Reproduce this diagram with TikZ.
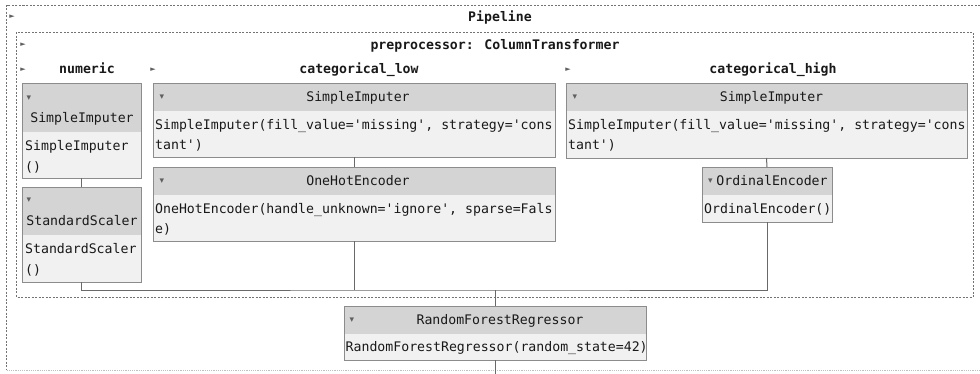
\documentclass[tikz,border=0pt]{standalone}
\usepackage{fontspec}
\newfontfamily\codefont{DejaVu Sans Mono}
\newfontfamily\symf{DejaVu Sans}
\definecolor{hdrgray}{RGB}{212,212,212}
\definecolor{bodgray}{RGB}{241,241,241}
\definecolor{bordc}{RGB}{140,140,140}
\definecolor{connc}{RGB}{105,105,105}
\definecolor{framec}{RGB}{115,115,115}
\definecolor{textc}{RGB}{25,25,25}
\definecolor{tric}{RGB}{95,95,95}
\tikzset{
  x=1pt, y=-1pt,
  estbox/.style={draw=bordc, line width=0.8pt, fill=bodgray, inner sep=0pt, outer sep=0pt, anchor=north west, rectangle},
  hdrbox/.style={fill=hdrgray, inner sep=0pt, outer sep=0pt, anchor=north west, rectangle},
  code/.style={font={\codefont\fontsize{13.2}{20}\selectfont}, text=textc, inner sep=0pt, anchor=base west},
  ttl/.style={font={\codefont\fontsize{13.2}{20}\selectfont}, text=textc, inner sep=0pt, anchor=base},
  lbl/.style={font={\codefont\bfseries\fontsize{13.2}{20}\selectfont}, text=textc, inner sep=0pt, anchor=base},
  tri/.style={font={\symf\fontsize{7}{7}\selectfont}, text=tric, inner sep=0pt},
  dtri/.style={font={\symf\fontsize{9}{9}\selectfont}, text=tric, inner sep=0pt},
  conn/.style={draw=connc, line width=1pt},
  frame/.style={draw=framec, dash pattern=on 2pt off 1.5pt, line width=0.7pt},
  faintframe/.style={draw=framec!45, dash pattern=on 1.2pt off 1pt, line width=0.7pt}
}
\begin{document}
\begin{tikzpicture}
\useasboundingbox (0,0) rectangle (980,373);
\clip (0,0) rectangle (980,373);
% frames
\draw[frame] (994,5) -- (6.5,5) -- (6.5,370);
\draw[faintframe] (6.5,370) -- (994,370);
\draw[frame] (16.5,32) rectangle (973,297);
% frame labels
\node[tri] (pt) at (12,17) {►};
\node[lbl] (plbl) at (500,21.5) {Pipeline};
\node[tri] (ct) at (23,44.5) {►};
\node[lbl] (clbl) at (495,49) {preprocessor: ColumnTransformer};
\node[tri] (nt) at (23,70) {►};
\node[lbl] (nlbl) at (87,73.5) {numeric};
\node[tri] (lt) at (153,70) {►};
\node[lbl] (llbl) at (359,73.5) {categorical\_low};
\node[tri] (ht) at (568,70) {►};
\node[lbl] (hlbl) at (773,73.5) {categorical\_high};
% boxes (outer)
\node[estbox, minimum width=118.5pt, minimum height=95pt] (n1) at (22.5,83) {};
\node[estbox, minimum width=118.5pt, minimum height=95pt] (n2) at (22.5,187) {};
\node[estbox, minimum width=402pt, minimum height=74pt] (l1) at (153,83) {};
\node[estbox, minimum width=402pt, minimum height=74pt] (l2) at (153,167) {};
\node[estbox, minimum width=401pt, minimum height=75pt] (h1) at (566,83) {};
\node[estbox, minimum width=130pt, minimum height=55pt] (h2) at (702,167) {};
\node[estbox, minimum width=302pt, minimum height=54pt] (rfr) at (344,306) {};
% connectors
\coordinate (junc) at (495,290);
\coordinate (bend) at (495,380);
\draw[conn] (n1.south) -- (n2.north);
\draw[conn] (l1.south) -- (l2.north);
\draw[conn] (h1.south) -- (h2.north);
\draw[conn] (n2.south) |- (junc) -| (h2.south);
\draw[conn] (l2.south) -- (l2.south |- junc);
\draw[conn] (junc) -- (rfr.north);
\draw[conn] (rfr.south) -- (bend);
% headers
\node[hdrbox, minimum width=117.5pt, minimum height=48.5pt] (n1h) at (23,83.5) {};
\node[hdrbox, minimum width=117.5pt, minimum height=47.5pt] (n2h) at (23,187.5) {};
\node[hdrbox, minimum width=401pt, minimum height=27.5pt] (l1h) at (153.5,83.5) {};
\node[hdrbox, minimum width=401pt, minimum height=27.5pt] (l2h) at (153.5,167.5) {};
\node[hdrbox, minimum width=400pt, minimum height=27.5pt] (h1h) at (566.5,83.5) {};
\node[hdrbox, minimum width=129pt, minimum height=27.5pt] (h2h) at (702.5,167.5) {};
\node[hdrbox, minimum width=301pt, minimum height=27.5pt] (rfrh) at (344.5,306.5) {};
% numeric column texts
\node[dtri] (n1d) at (29,98) {▾};
\node[ttl] (n1t) at (82,122) {SimpleImputer};
\node[code] (n1c1) at (25,150) {SimpleImputer};
\node[code] (n1c2) at (25,171) {()};
\node[dtri] (n2d) at (29,200) {▾};
\node[ttl] (n2t) at (82,225.5) {StandardScaler};
\node[code] (n2c1) at (25,253) {StandardScaler};
\node[code] (n2c2) at (25,274) {()};
% categorical_low texts
\node[dtri] (l1d) at (162,97) {▾};
\node[ttl] (l1t) at (358,101.5) {SimpleImputer};
\node[code] (l1c1) at (155,129) {SimpleImputer(fill\_value='missing', strategy='cons};
\node[code] (l1c2) at (155,149) {tant')};
\node[dtri] (l2d) at (162,181) {▾};
\node[ttl] (l2t) at (358,185.5) {OneHotEncoder};
\node[code] (l2c1) at (155,213) {OneHotEncoder(handle\_unknown='ignore', sparse=Fals};
\node[code] (l2c2) at (155,233) {e)};
% categorical_high texts
\node[dtri] (h1d) at (575,97) {▾};
\node[ttl] (h1t) at (771.5,101.5) {SimpleImputer};
\node[code] (h1c1) at (568,129) {SimpleImputer(fill\_value='missing', strategy='cons};
\node[code] (h1c2) at (568,149) {tant')};
\node[dtri] (h2d) at (710.5,181) {▾};
\node[ttl] (h2t) at (772,185.5) {OrdinalEncoder};
\node[code] (h2c1) at (704,213) {OrdinalEncoder()};
% final estimator
\node[dtri] (rd) at (352,320) {▾};
\node[ttl] (rt) at (500,324.5) {RandomForestRegressor};
\node[code] (rc1) at (345.5,351.5) {RandomForestRegressor(random\_state=42)};
\end{tikzpicture}
\end{document}
